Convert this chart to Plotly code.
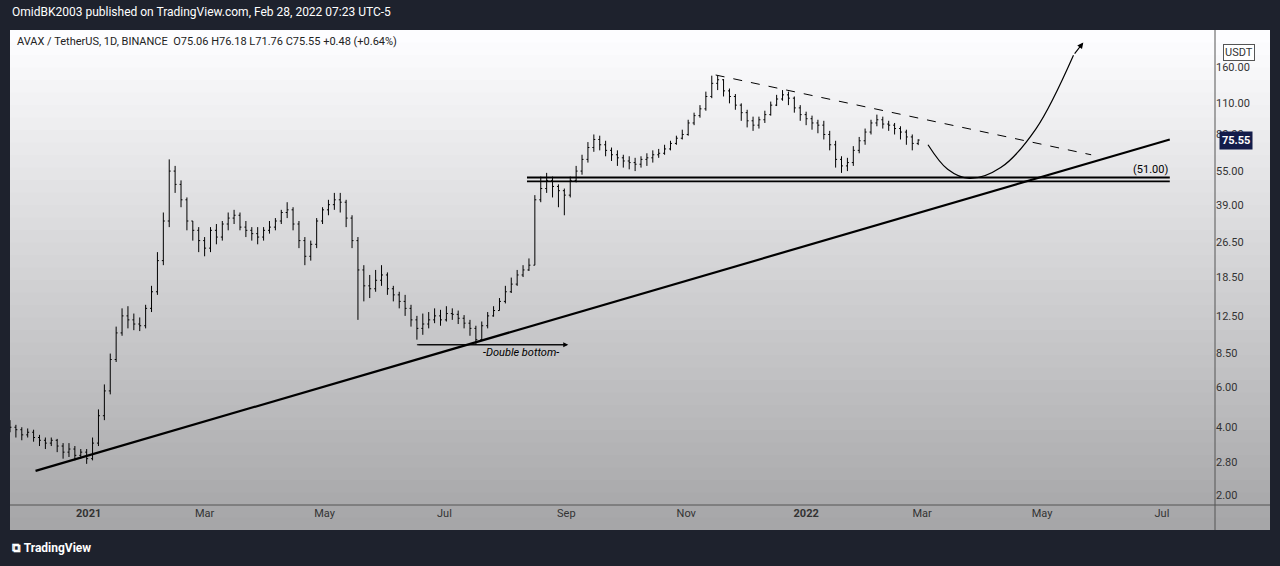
import numpy as np, pandas as pd, math
import plotly.graph_objects as go

start = pd.Timestamp("2020-11-22")
closes = [4.0,3.9,3.7,3.8,3.6,3.5,3.4,3.5,3.3,3.1,
3.2,3.0,3.1,2.9,3.4,4.5,5.8,8.0,10.5,12.5,
12.0,11.5,11.3,13.5,16,22,33,55,48,41,
33,30,27,25,30,28,32,34,35,31,
30,29,28,30,31,33,36,37,32,27,
23,26,33,37,39,41,40,34,27,20,
17,16.5,18,19,16.5,15.5,14.5,13.5,12,11,
11.5,12,12.5,12,12.8,12.7,12.2,11.6,11,9.8,
11.3,12.5,13.2,14.5,16,17.3,19,20,21,41,
46,50,47,45,43,50,55,62,70,76,
72,68,65,63,61,60,59,62,63,65,
66,69,73,77,80,90,97,104,118,135,
140,125,118,108,100,92,88,93,98,108,
115,120,116,105,98,94,90,88,80,72,
62,58,60,68,75,82,90,93,89,88,
85,82,78,73,75.55]
highs = [4.3,4.1,4.0,3.95,3.9,3.7,3.6,3.6,3.55,3.4,
3.4,3.3,3.2,3.2,3.6,4.8,6.2,8.5,11.2,13.5,
13.8,12.8,12.3,14.0,17,24,36,62,58,50,
42,33,31,28,31,32,33,36,37,36,
33,31,31,31,33,34,37,40,38,33,
28,27,34,38,41,44,44,41,35,28,
21,19,20,21,19.5,17,16,15.5,14,12.5,
12.8,13,13.5,13.3,13.8,13.5,13.2,12.6,12,11.3,
11.8,13,13.8,15,17,18.5,20,21,22.5,43,
52,54,52,48,46,52,58,65,74,80,
79,75,70,68,65,64,63,64,66,68,
69,72,75,79,84,93,100,108,124,146,
146,141,128,121,110,103,96,96,102,112,
120,126,124,118,108,101,97,93,92,83,
75,64,63,71,78,85,93,98,96,92,
90,87,84,80,76.18]
lows = [3.8,3.6,3.5,3.6,3.45,3.3,3.2,3.3,3.1,2.9,
2.95,2.85,2.9,2.75,2.85,3.3,4.3,5.6,7.8,10.2,
11.0,10.8,10.7,11.0,13,15.5,21,31,44,38,
30,27,24,23,24,26,27,30,32,30,
28,27,26,27,29,30,32,34,30,25,
21,22,25,32,35,37,36,31,25,12,
14.5,15,16,17,15.5,14.5,13.5,12.5,11.2,9.8,
10.3,11,11.6,11.3,11.8,12,11.5,11,10.2,9.3,
9.7,11,12.4,13.2,14.2,15.8,17,18.6,19.8,21,
40,44,42,38,35,42,49,53,60,67,
68,64,61,58,57,56,55,57,58,60,
63,65,68,72,76,79,88,95,102,116,
126,118,110,103,92,86,83,85,90,97,
107,113,108,100,92,88,84,81,76,68,
57,54,55,58,66,72,80,87,85,83,
80,76,72,68,71.76]
dates = [start + pd.Timedelta(days=3*i) for i in range(len(closes))]
opens = [4.1] + closes[:-1]

tick_vals = [2,2.8,4,6,8.5,12.5,18.5,26.5,39,55,80,110,160]
tick_text = ["%.2f" % v for v in tick_vals]

trend_x = ["2020-12-05", "2022-07-05"]; trend_y = [2.56, 76]
sup_x = ["2021-08-12", "2022-07-05"]; sup_y1 = [51.5, 51.5]; sup_y2 = [49.5, 49.5]
dash_x = ["2021-11-16", "2022-05-26"]; dash_y = [147, 65]
curve_x = ["2022-03-04","2022-03-14","2022-03-25","2022-04-10","2022-04-28","2022-05-17"]
curve_y = [72, 56, 51, 57, 85, 180]
db_x = ["2021-06-17", "2021-08-31"]; db_y = [9.3, 9.3]

fig = go.Figure()
fig.add_trace(go.Ohlc(x=dates, open=opens, high=highs, low=lows, close=closes,
    increasing_line_color="black", decreasing_line_color="black", line_width=1, tickwidth=0.25))
for xs, ys, dash, w in [(trend_x, trend_y, "solid", 2.2), (sup_x, sup_y1, "solid", 1.8),
                        (sup_x, sup_y2, "solid", 1.8), (dash_x, dash_y, "dash", 1),
                        (db_x, db_y, "solid", 1)]:
    fig.add_trace(go.Scatter(x=xs, y=ys, mode="lines", line=dict(color="black", width=w, dash=dash)))
fig.add_trace(go.Scatter(x=curve_x, y=curve_y, mode="lines", line=dict(color="black", width=1.2, shape="spline")))

ann = [
 dict(x="2022-05-22", y=math.log10(205), ax=curve_x[-1], ay=math.log10(curve_y[-1]), xref="x", yref="y",
      axref="x", ayref="y", showarrow=True, arrowhead=2, arrowsize=1, arrowwidth=1.2, arrowcolor="black", text=""),
 dict(x="2021-09-02", y=math.log10(9.3), ax=db_x[0], ay=math.log10(9.3), xref="x", yref="y",
      axref="x", ayref="y", showarrow=True, arrowhead=2, arrowwidth=1, arrowcolor="black", text=""),
 dict(x="2021-08-09", y=math.log10(8.6), xref="x", yref="y", showarrow=False,
      text="<i>-Double bottom-</i>", font=dict(size=11, color="black")),
 dict(x="2022-06-25", y=math.log10(56), xref="x", yref="y", showarrow=False,
      text="(51.00)", font=dict(size=11, color="black")),
 dict(x=0, y=1.0, yshift=18, xref="paper", yref="paper", xanchor="left", yanchor="middle", showarrow=False,
      text="OmidBK2003 published on TradingView.com, Feb 28, 2022 07:23 UTC-5",
      font=dict(size=12, color="white", family="Roboto")),
 dict(x=0.004, y=0.975, xref="paper", yref="paper", xanchor="left", yanchor="middle", showarrow=False,
      text="AVAX / TetherUS, 1D, BINANCE  O75.06 H76.18 L71.76 C75.55 +0.48 (+0.64%)",
      font=dict(size=11, color="#222", family="Roboto")),
 dict(x=1.0, xshift=4, y=math.log10(75.55), xref="paper", yref="y", xanchor="left", showarrow=False,
      text="<b>75.55</b>", bgcolor="#131c4a", font=dict(size=11, color="white"), borderpad=2),
 dict(x=1.0, xshift=8, y=0.97, xref="paper", yref="paper", xanchor="left", showarrow=False,
      text="USDT", bgcolor="white", bordercolor="#555", borderwidth=1, font=dict(size=11, color="#333")),
 dict(x=0, y=0, yshift=-43, xref="paper", yref="paper", xanchor="left", yanchor="middle", showarrow=False,
      text="<b>⧉ TradingView</b>", font=dict(size=12, color="white")),
]

shapes = []
N = 40
x1p = (1270 - 10) / 1205
ybot = -25 / 475
for k in range(N):
    t0 = k / N; t1 = (k + 1.6) / N
    y0 = 1 - t0 * (1 - ybot); y1 = max(ybot, 1 - t1 * (1 - ybot))
    c = int(255 - (k + 0.5) / N * (255 - 165))
    shapes.append(dict(type="rect", xref="paper", yref="paper", x0=0, x1=x1p, y0=y1, y1=y0,
                       fillcolor=f"rgb({c},{c},{min(255,c+2)})", line_width=0, layer="below"))
shapes.append(dict(type="line", xref="paper", yref="paper", x0=1, x1=1, y0=ybot, y1=1, line=dict(color="#555", width=1)))
shapes.append(dict(type="line", xref="paper", yref="paper", x0=0, x1=x1p, y0=0, y1=0, line=dict(color="#555", width=1)))

fig.update_layout(width=1280, height=566, margin=dict(l=10, r=65, t=30, b=61),
    paper_bgcolor="#1e222d", plot_bgcolor="rgba(0,0,0,0)", showlegend=False, hovermode=False,
    shapes=shapes, annotations=ann, font=dict(family="Roboto", size=11, color="#222"),
    xaxis=dict(range=["2020-11-22", "2022-07-28"], rangeslider_visible=False, showgrid=False,
               tickvals=["2021-01-01","2021-03-01","2021-05-01","2021-07-01","2021-09-01","2021-11-01",
                         "2022-01-01","2022-03-01","2022-05-01","2022-07-01"],
               ticktext=["<b>2021</b>","Mar","May","Jul","Sep","Nov","<b>2022</b>","Mar","May","Jul"],
               ticks="", tickfont=dict(color="#333", size=11), zeroline=False),
    yaxis=dict(type="log", side="right", range=[math.log10(1.805), math.log10(233)], showgrid=False,
               tickvals=tick_vals, ticktext=tick_text, ticks="", tickfont=dict(color="#333", size=11),
               zeroline=False))
fig.write_html("out.html", config={"displayModeBar": False},
               post_script="document.body.style.margin='0';document.body.style.overflow='hidden';document.body.style.background='#1e222d';")
